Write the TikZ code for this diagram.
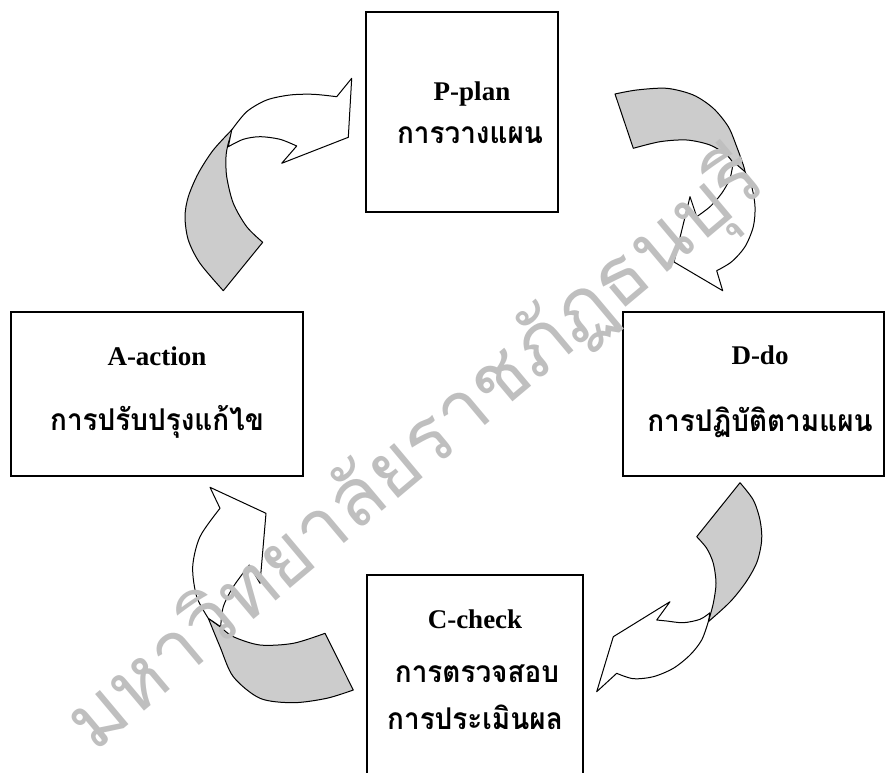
\documentclass[tikz,border=0pt]{standalone}
\usepackage{fontspec}
\setmainfont{Liberation Serif}
\newfontfamily\thaifont[Script=Thai, FakeStretch=0.93]{Loma}
\newfontfamily\markfont[Script=Thai]{Loma}
\definecolor{ribbongray}{gray}{0.8}
\definecolor{markgray}{gray}{0.75}
\tikzset{
  stepbox/.style={draw, line width=1.5pt, fill=white, inner sep=0pt},
  engtext/.style={anchor=base, font=\fontsize{27}{30}\selectfont\bfseries},
  thaitext/.style={anchor=base, font=\thaifont\fontsize{30}{33}\selectfont\bfseries},
  front/.style={draw, fill=white, line width=1pt, line join=round},
  back/.style={draw, fill=ribbongray, line width=1pt, line join=round},
}
\begin{document}
\begin{tikzpicture}[x=1pt,y=-1pt]
	\path[use as bounding box] (0,0) rectangle (886,772);
	\clip (0,0) rectangle (886,772);
	% boxes
	\node[stepbox, minimum width=192pt, minimum height=200pt] (plan) at (462,112) {};
	\node[stepbox, minimum width=292pt, minimum height=164pt] (act) at (157,394) {};
	\node[stepbox, minimum width=261pt, minimum height=164pt] (do) at (753.5,394) {};
	\node[stepbox, minimum width=216pt, minimum height=225pt] (check) at (475,687.5) {};
	% labels
	\node[engtext] (planname) at (472,100) {P-plan};
	\node[thaitext] (planthai) at (470,143) {การวางแผน};
	\node[engtext] (actname) at (157,365) {A-action};
	\node[thaitext] (actthai) at (157,430) {การปรับปรุงแก้ไข};
	\node[engtext] (doname) at (760,364) {D-do};
	\node[thaitext] (dothai) at (760,431) {การปฏิบัติตามแผน};
	\node[engtext] (checkname) at (475,628) {C-check};
	\node[thaitext] (checkthai) at (477,682) {การตรวจสอบ};
	\node[thaitext] (evalthai) at (475,729) {การประเมินผล};
	% A -> P
	\draw[back] plot[smooth] coordinates {(233.3,128.3) (213.3,150) (198.3,173.3) (188.3,196.7) (185,216.7) (188.3,240) (200,263.3) (223.3,290.7)}
		-- (262.7,242.3) -- plot[smooth] coordinates {(262.7,242.3) (246.7,226.7) (233.3,203.3) (226.7,176.7) (226,156.7) (228.3,143.3) (233.3,128.3)} -- cycle;
	\draw[front] plot[smooth] coordinates {(231.7,130) (246.7,111.7) (266.7,100) (290,95) (313.3,94.3) (336.7,96.7)}
		-- (351.7,78.3) -- (348.3,137.3) -- (281.7,163.3) -- (296.7,146)
		-- plot[smooth] coordinates {(296.7,146) (280,139.3) (260,136.7) (243.3,139.3) (228.3,146.7)} -- cycle;
	% P -> D
	\draw[back] plot[smooth] coordinates {(745,171.7) (743.3,165) (736.7,146.7) (728.3,126.7) (713.3,108.3) (693.3,95) (666.7,88.3) (636.7,90) (615,94)}
		-- (633.3,148.3) -- plot[smooth] coordinates {(633.3,148.3) (660,141.7) (686.7,140) (710,145) (726.7,155) (735,165) (745,171.7)} -- cycle;
	\draw[front] plot[smooth] coordinates {(745,171.7) (751.7,186.7) (755,206.7) (753.3,226.7) (745,246.7) (731.7,261.7) (716.7,270.7)}
		-- (722.7,290.7) -- (674,262) -- (690,196.7) -- (696.7,216.7)
		-- plot[smooth] coordinates {(696.7,216.7) (710,206.7) (721.7,193.3) (730,178.3) (733.3,161.7)} -- cycle;
	% D -> C
	\draw[back] plot[smooth] coordinates {(708.3,621.7) (730,602) (746,582) (757,562) (761.7,540) (760,520) (753.3,500) (740,482.7)}
		-- (696.7,536.7) -- plot[smooth] coordinates {(696.7,536.7) (706.7,548.3) (713.3,563.3) (716,583.3) (713.3,603.3) (708.3,621.7)} -- cycle;
	\draw[front] plot[smooth] coordinates {(708.3,621.7) (701.7,640) (690,655) (673.3,668.3) (653.3,676.7) (633.3,678.7) (616.7,673.3)}
		-- (596.7,691.7) -- (613.3,636.7) -- (670,601.7) -- (656.7,620)
		-- plot[smooth] coordinates {(656.7,620) (666.7,621) (683.3,622.7) (700,619.3) (710,612.7)} -- cycle;
	% C -> A
	\draw[back] plot[smooth] coordinates {(208.3,618.3) (220,626.7) (233.3,636.7) (260,645) (293.3,643.3) (325,633.3)}
		-- (353.3,690) -- plot[smooth] coordinates {(353.3,690) (326.7,698.3) (293.3,702.7) (260,698.3) (233.3,676.7) (220,646.7) (208.3,618.3)} -- cycle;
	\draw[front] plot[smooth] coordinates {(208.3,618.3) (196.7,596.7) (192.7,566.7) (200,536.7) (220,508.3)}
		-- (210,487.3) -- (266,513.3) -- (260,583.3) -- (249.3,565)
		-- plot[smooth] coordinates {(249.3,565) (233.3,586.7) (223.3,606.7) (220.7,626.7)} -- cycle;
	% watermark
	\node[rotate=40, inner sep=0pt, text=markgray, font=\markfont\fontsize{80}{80}\selectfont] (watermark) at (417,452) {มหาวิทยาลัยราชภัฏธนบุรี};
\end{tikzpicture}
\end{document}
